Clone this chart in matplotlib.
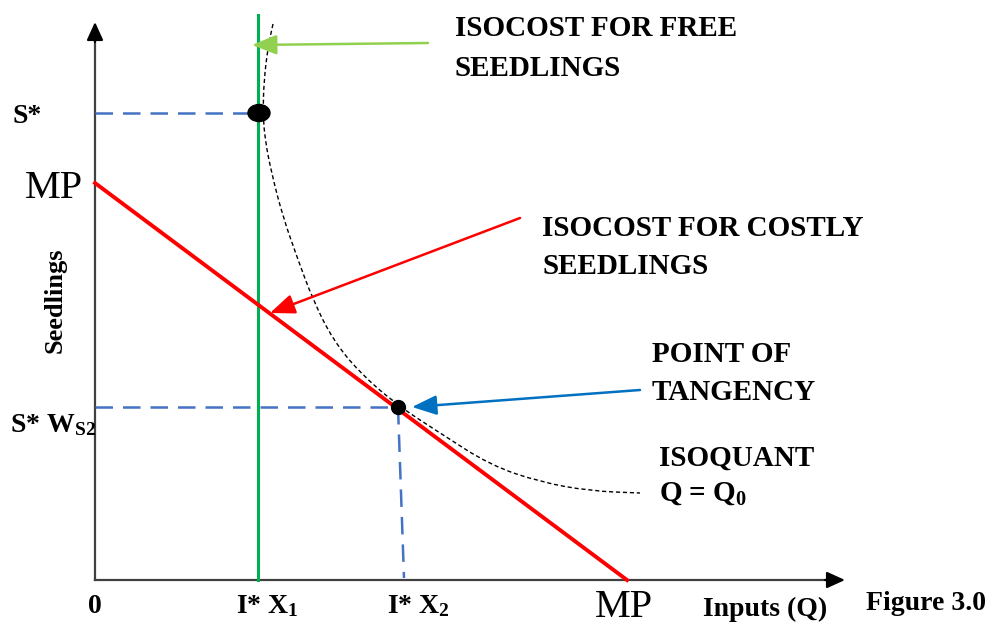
import numpy as np
import matplotlib.pyplot as plt
from matplotlib.patches import Ellipse, PathPatch
from matplotlib.path import Path

plt.rcParams['font.family'] = ['Liberation Serif', 'DejaVu Serif']
plt.rcParams['font.weight'] = 'bold'
plt.rcParams['mathtext.fontset'] = 'custom'
plt.rcParams['mathtext.rm'] = 'Liberation Serif:bold'
plt.rcParams['mathtext.it'] = 'Liberation Serif:bold'
plt.rcParams['mathtext.bf'] = 'Liberation Serif:bold'

# diagram values (origin at the axes corner, y upward)
x_axis_end = 750
y_axis_end = 558
i_x1 = 163            # I* X1, free seedlings input
i_x2 = 303            # I* X2, tangency input
s_star = 467          # S*
s_ws2 = 173           # S* W_S2
mp_y = 397            # MP intercept on seedlings axis
mp_x = 532            # MP intercept on inputs axis
green_top = 565

# isoquant Q = Q0
iso_x = [178, 173, 169, 168, 170, 177, 188, 202, 218, 238, 265, 302, 345, 395, 445, 495, 545]
iso_y = [556, 533, 500, 467, 440, 405, 363, 323, 280, 240, 207, 175, 147, 115, 98, 89, 87]

# callout arrows: (tail, head)
free_arrow = [(333, 537), (157, 535)]
costly_arrow = [(425, 362), (175, 267)]
tangency_arrow = [(545, 190), (317, 173)]


def px(x, y):
    return x - 95, 580 - y


fig = plt.figure(figsize=(9.94, 6.25), dpi=100)
ax = fig.add_axes([0, 0, 1, 1])
ax.set_xlim(-95, 899)
ax.set_ylim(-45, 580)
ax.axis('off')

# axes with arrows
axis_col = '#404040'
ax.plot([0, x_axis_end - 10], [0, 0], color=axis_col, lw=1.6)
ax.plot([0, 0], [0, y_axis_end - 10], color=axis_col, lw=1.6)
arr = dict(arrowstyle='-|>,head_length=1.1,head_width=0.5', color='black', lw=1.6,
           shrinkA=0, shrinkB=0, mutation_scale=10)
ax.annotate('', xy=(x_axis_end, 0), xytext=(x_axis_end - 20, 0), arrowprops=arr)
ax.annotate('', xy=(0, y_axis_end), xytext=(0, y_axis_end - 20), arrowprops=arr)

# isocost for free seedlings
ax.plot([i_x1, i_x1], [0, green_top], color='#00b050', lw=2.2)

# isocost for costly seedlings
ax.plot([0, mp_x], [mp_y, 0], color='#ff0000', lw=2.8)

# isoquant drawn as a smooth path through the read points
pts = np.column_stack([iso_x, iso_y]).astype(float)
verts = [pts[0], (pts[0] + pts[1]) / 2]
codes = [Path.MOVETO, Path.LINETO]
for i in range(1, len(pts) - 1):
    verts += [pts[i], (pts[i] + pts[i + 1]) / 2]
    codes += [Path.CURVE3, Path.CURVE3]
verts.append(pts[-1])
codes.append(Path.LINETO)
ax.add_patch(PathPatch(Path(verts, codes), fill=False, edgecolor='black', lw=1.0,
                       ls=(0, (3, 2))))

# dashed guides
blue = '#4472c4'
ax.plot([0, i_x1], [s_star, s_star], color=blue, lw=1.8, ls=(0, (7, 4)))
ax.plot([0, i_x2], [s_ws2, s_ws2], color=blue, lw=1.8, ls=(0, (7, 4)))
ax.plot([i_x2, i_x2 + 6], [s_ws2, 2], color=blue, lw=1.8, ls=(0, (7, 4)))

# points
ax.add_patch(Ellipse((i_x1 + 1, s_star), 22, 17, color='black', zorder=5))
ax.plot([i_x2], [s_ws2], 'o', color='black', markersize=10, zorder=5)

# callouts
def callout(pts, col):
    ax.annotate('', xy=pts[1], xytext=pts[0],
                arrowprops=dict(arrowstyle='-|>,head_length=1.5,head_width=0.6', color=col,
                                lw=1.8, shrinkA=0, shrinkB=0, mutation_scale=10))

callout(free_arrow, '#92d050')
callout(costly_arrow, '#ff0000')
callout(tangency_arrow, '#0070c0')

big = 21
labels = [
    ("ISOCOST FOR FREE", 455, 36, big), ("SEEDLINGS", 455, 76, big),
    ("ISOCOST FOR COSTLY", 542, 236, big), ("SEEDLINGS", 542, 274, big),
    ("POINT OF", 652, 362, big), ("TANGENCY", 652, 400, big),
    ("ISOQUANT", 659, 466, big), (r"Q = $\mathrm{Q_0}$", 659, 501, big),
    ("S*", 13, 123, 20), (r"S* $\mathrm{W_{S2}}$", 10, 432, 20),
    (r"I* $\mathrm{X_1}$", 236, 613, 20), (r"I* $\mathrm{X_2}$", 387, 613, 20),
    ("Inputs (Q)", 703, 616, 20), ("Figure 3.0", 866, 610, 20),
]
for t, x, y, s in labels:
    ax.text(*px(x, y), t, fontsize=s, fontweight='bold', ha='left', va='baseline')

ax.text(*px(95, 613), "0", fontsize=20, fontweight='bold', ha='center', va='baseline')
ax.text(*px(25, 198), "MP", fontsize=29, fontweight='normal', ha='left', va='baseline')
ax.text(*px(595, 617), "MP", fontsize=29, fontweight='normal', ha='left', va='baseline')
ax.text(*px(55, 300), "Seedlings", fontsize=19, fontweight='bold', rotation=90,
        ha='center', va='center')

fig.savefig('out.png', dpi=100)
